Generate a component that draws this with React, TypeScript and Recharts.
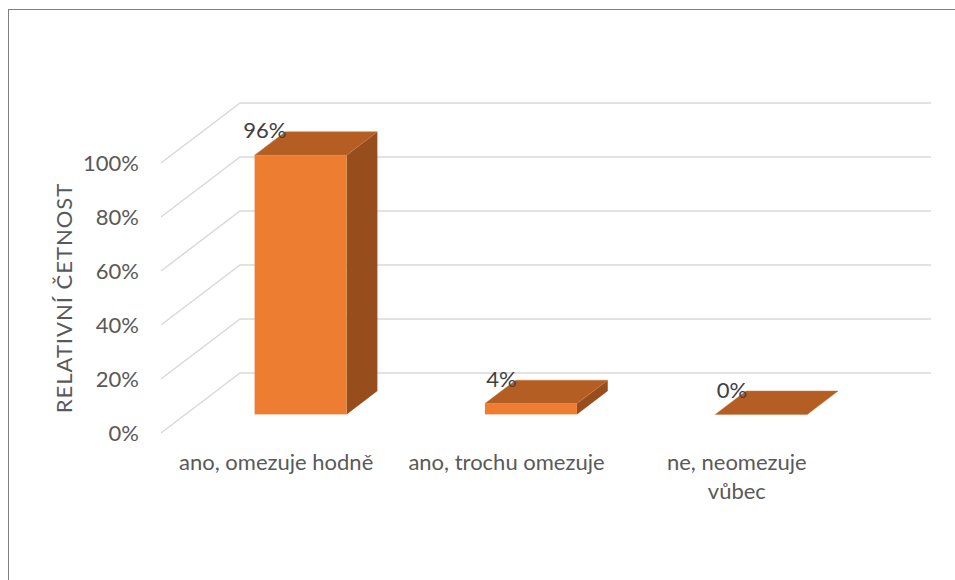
import React from 'react';
import { BarChart, Bar, XAxis, YAxis, CartesianGrid, LabelList } from 'recharts';

const categories = ['ano, omezuje hodně', 'ano, trochu omezuje', 'ne, neomezuje\nvůbec'];
const values = [96, 4, 0];
const yTicks = [0, 20, 40, 60, 80, 100];
const axisTitle = 'RELATIVNÍ ČETNOST';

const data = categories.map((c, i) => ({ category: c, value: values[i] }));

// oblique 3D projection constants (style)
const DEPTH_X = 79;
const DEPTH_Y = -60;
const FRONT_T = 0.31; // box front face position along floor depth
const BOX_T = 0.39; // box depth as share of floor depth

const FONT = 'Lato, "Open Sans", sans-serif';
const FS = 22;

const GridLine = (props: any) => {
  const { x1, y1, x2 } = props;
  return (
    <path
      d={`M${x1},${y1} L${x1 + DEPTH_X},${y1 + DEPTH_Y} L${x2 + DEPTH_X},${y1 + DEPTH_Y}`}
      fill="none"
      stroke="#D9D9D9"
      strokeWidth={1.5}
    />
  );
};

const Box3D = (props: any) => {
  const { x, y, width, height } = props;
  const fx = x + DEPTH_X * FRONT_T;
  const fy = y + DEPTH_Y * FRONT_T;
  const bx = DEPTH_X * BOX_T;
  const by = DEPTH_Y * BOX_T;
  const h = Math.max(0, height);
  return (
    <g>
      {h > 0 && (
        <polygon
          points={`${fx + width},${fy} ${fx + width + bx},${fy + by} ${fx + width + bx},${fy + h + by} ${fx + width},${fy + h}`}
          fill="#984D1D"
        />
      )}
      <polygon
        points={`${fx},${fy} ${fx + bx},${fy + by} ${fx + width + bx},${fy + by} ${fx + width},${fy}`}
        fill="#B45E23"
        stroke="#C8773F"
        strokeWidth={0.5}
      />
      {h > 0 && <rect x={fx} y={fy} width={width} height={h} fill="#ED7D31" />}
    </g>
  );
};

const ValueLabel = (props: any) => {
  const { x, y, value } = props;
  const lx = x + DEPTH_X * (FRONT_T + BOX_T) + 1;
  const ly = y + DEPTH_Y * (FRONT_T + BOX_T) - 2;
  return (
    <text x={lx} y={ly} textAnchor="end" dominantBaseline="central" fill="#404040" fontSize={FS} fontFamily={FONT}>
      {`${value}%`}
    </text>
  );
};

const CategoryTick = (props: any) => {
  const { x, y, payload } = props;
  const lines = String(payload.value).split('\n');
  return (
    <text x={x} y={y} textAnchor="middle" fill="#595959" fontSize={FS} fontFamily={FONT}>
      {lines.map((l, i) => (
        <tspan key={i} x={x} dy={i === 0 ? '0.71em' : 29}>
          {l}
        </tspan>
      ))}
    </text>
  );
};

const AxisTitle = (props: any) => {
  const { viewBox } = props;
  const cx = viewBox.x + 63;
  const cy = viewBox.y + viewBox.height / 2;
  return (
    <text
      x={cx}
      y={cy}
      transform={`rotate(-90, ${cx}, ${cy})`}
      textAnchor="middle"
      dominantBaseline="central"
      fill="#595959"
      fontSize={FS}
      fontFamily={FONT}
      letterSpacing={1}
    >
      {axisTitle}
    </text>
  );
};

export default function App() {
  return (
    <div style={{ position: 'fixed', left: 0, top: 0, width: 955, height: 580, overflow: 'hidden', background: '#fff' }}>
      <div
        style={{
          position: 'absolute',
          left: 8,
          top: 9,
          width: 1000,
          height: 700,
          borderLeft: '1.5px solid #7F7F7F',
          borderTop: '1.5px solid #7F7F7F',
        }}
      />
      <div style={{ position: 'absolute', left: 0, top: 0 }}>
        <BarChart
          width={955}
          height={580}
          data={data}
          margin={{ top: 163, right: 103, bottom: 87, left: 0 }}
          barCategoryGap="30%"
        >
          <CartesianGrid vertical={false} horizontal={GridLine} />
          <XAxis
            dataKey="category"
            axisLine={false}
            tickLine={false}
            tickSize={0}
            tickMargin={21}
            height={60}
            interval={0}
            tick={CategoryTick}
          />
          <YAxis
            type="number"
            domain={[0, 100]}
            ticks={yTicks}
            tickFormatter={(v: number) => `${v}%`}
            axisLine={false}
            tickLine={false}
            tickSize={0}
            tickMargin={22}
            width={161}
            tick={{ fill: '#595959', fontSize: FS, fontFamily: FONT }}
            label={{ content: AxisTitle }}
          />
          <Bar dataKey="value" isAnimationActive={false} shape={Box3D}>
            <LabelList dataKey="value" content={ValueLabel} />
          </Bar>
        </BarChart>
      </div>
    </div>
  );
}
